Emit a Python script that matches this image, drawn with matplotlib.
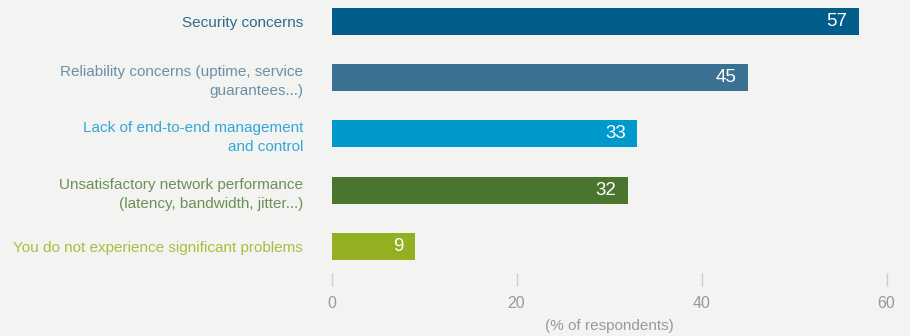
import matplotlib
matplotlib.use("Agg")
import matplotlib.pyplot as plt

# survey results, top to bottom
labels = [
    "Security concerns",
    "Reliability concerns (uptime, service\nguarantees...)",
    "Lack of end-to-end management\nand control",
    "Unsatisfactory network performance\n(latency, bandwidth, jitter...)",
    "You do not experience significant problems",
]
values = [57, 45, 33, 32, 9]
bar_colors = ["#025d8a", "#3b7192", "#0099cc", "#4a752e", "#93b023"]
text_colors = ["#2d6a90", "#6b8fa9", "#33a8d8", "#6b9057", "#a5c040"]
xticks = [0, 20, 40, 60]

plt.rcParams["font.family"] = ["Liberation Sans", "DejaVu Sans"]

fig = plt.figure(figsize=(9.1, 3.36), dpi=100, facecolor="#f3f3f1")
ax = fig.add_axes([331.5 / 910, 63 / 336, 573.5 / 910, 273 / 336])
ax.set_facecolor("#f3f3f1")

ypos = list(range(len(values)))[::-1]
ax.barh(ypos, values, height=0.48, color=bar_colors)
for y, v in zip(ypos, values):
    ax.annotate(str(v), (v, y), xytext=(-8, 0), textcoords="offset points",
                ha="right", va="center", color="white", fontsize=13.5)

ax.set_xlim(0, 62)
ax.set_ylim(-0.471, 4.382)

ax.set_yticks(ypos)
ax.set_yticklabels(labels, fontsize=11)
for t, c in zip(ax.get_yticklabels(), text_colors):
    t.set_color(c)
    t.set_multialignment("right")
    t.set_linespacing(1.45)
ax.tick_params(axis="y", length=0, pad=20.5)

ax.set_xticks(xticks)
ax.tick_params(axis="x", length=9.4, width=1, color="#cccccc",
               labelcolor="#999999", labelsize=11.5, pad=7)
ax.set_xlabel("(% of respondents)", color="#999999", fontsize=11)
ax.xaxis.set_label_coords(30 / 62, -0.17)

for s in ax.spines.values():
    s.set_visible(False)

fig.savefig("out.png", dpi=100, facecolor=fig.get_facecolor())
